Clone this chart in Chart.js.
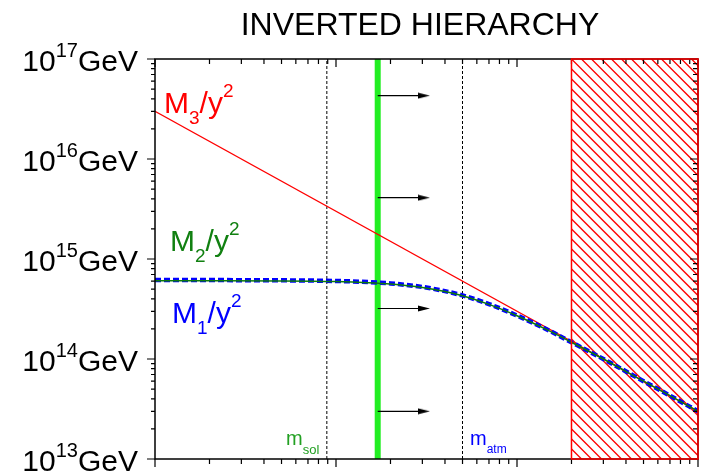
<!DOCTYPE html>
<html>
<head>
<meta charset="utf-8">
<script src="https://cdn.jsdelivr.net/npm/chart.js@4.4.1/dist/chart.umd.min.js"></script>
<style>
    html, body { margin: 0; padding: 0; background: #ffffff; }
</style>
</head>
<body>
<canvas id="hierarchyChart" width="704" height="473"></canvas>
<script>
// lightest neutrino mass (eV) on x, M/y^2 (GeV) on y
var massPoints = [0.001, 0.002, 0.005, 0.01, 0.015, 0.02, 0.03, 0.04, 0.05, 0.07, 0.1, 0.15, 0.2, 0.3, 0.5, 0.7, 1.0];
var m1Values   = [6.15e14, 6.15e14, 6.12e14, 6.03e14, 5.88e14, 5.70e14, 5.25e14, 4.77e14, 4.32e14, 3.54e14, 2.72e14, 1.93e14, 1.47e14, 1.0e14, 6.0e13, 4.3e13, 3.0e13];
var m2Values   = [6.05e14, 6.05e14, 6.03e14, 5.94e14, 5.80e14, 5.63e14, 5.20e14, 4.73e14, 4.29e14, 3.52e14, 2.71e14, 1.92e14, 1.47e14, 1.0e14, 6.0e13, 4.3e13, 3.0e13];
var m3Masses   = [0.001, 1.0];
var m3Values   = [3.0e16, 3.0e13];

var mSol   = 0.0089;
var mAtm   = 0.05;
var mBound = 0.017;
var mCosmo = 0.2;

var arrowLevels = [4.3e16, 4.1e15, 3.2e14, 3.0e13];
var arrowEnd    = 0.0306;

var xMajorTicks = [0.001, 0.01, 0.1, 1];
var yExponents  = [13, 14, 15, 16, 17];
var minorSteps  = [2, 3, 4, 5, 6, 7, 8, 9];

var xMin = 0.001, xMax = 1;
var yMin = 1e13,  yMax = 1e17;

var FONT = '"Liberation Sans", Arial, Helvetica, sans-serif';

function pairs(xs, ys) {
    return xs.map(function (x, i) { return { x: x, y: ys[i] }; });
}

function vertical(x) {
    return [{ x: x, y: yMin }, { x: x, y: yMax }];
}

// arrow head used as point style
var arrowHead = document.createElement('canvas');
arrowHead.width = 12;
arrowHead.height = 7;
(function () {
    var c = arrowHead.getContext('2d');
    c.fillStyle = '#000000';
    c.beginPath();
    c.moveTo(0, 0.5);
    c.lineTo(12, 3.5);
    c.lineTo(0, 6.5);
    c.closePath();
    c.fill();
})();

function drawRich(ctx, parts, x, y, color) {
    ctx.fillStyle = color;
    ctx.textAlign = 'left';
    ctx.textBaseline = 'alphabetic';
    var cx = x;
    parts.forEach(function (p) {
        ctx.font = p.size + 'px ' + FONT;
        ctx.fillText(p.t, cx, y + (p.dy || 0));
        cx += ctx.measureText(p.t).width;
    });
    return cx - x;
}

function richWidth(ctx, parts) {
    var w = 0;
    parts.forEach(function (p) {
        ctx.font = p.size + 'px ' + FONT;
        w += ctx.measureText(p.t).width;
    });
    return w;
}

function massLabel(idx) {
    return [
        { t: 'M', size: 30 },
        { t: idx, size: 19, dy: 11 },
        { t: '/y', size: 30 },
        { t: '2', size: 19, dy: -16 }
    ];
}

var hatchPlugin = {
    id: 'hatch',
    beforeDatasetsDraw: function (chart) {
        var ctx = chart.ctx, a = chart.chartArea;
        var x0 = chart.scales.x.getPixelForValue(mCosmo);
        var h = a.bottom - a.top;
        ctx.save();
        ctx.beginPath();
        ctx.rect(x0, a.top, a.right - x0, h);
        ctx.clip();
        ctx.strokeStyle = '#ff0000';
        ctx.lineWidth = 1.3;
        ctx.beginPath();
        for (var x = x0 - h; x < a.right; x += 10) {
            ctx.moveTo(x, a.top);
            ctx.lineTo(x + h, a.bottom);
        }
        ctx.stroke();
        ctx.restore();
    }
};

var framePlugin = {
    id: 'frame',
    afterDraw: function (chart) {
        var ctx = chart.ctx, a = chart.chartArea;
        var xs = chart.scales.x, ys = chart.scales.y;
        ctx.save();

        // frame
        ctx.strokeStyle = '#000000';
        ctx.lineWidth = 1.5;
        ctx.strokeRect(a.left, a.top, a.right - a.left, a.bottom - a.top);

        // ticks
        ctx.lineWidth = 1.2;
        ctx.beginPath();
        xMajorTicks.forEach(function (v, i) {
            var px = xs.getPixelForValue(v);
            ctx.moveTo(px, a.bottom); ctx.lineTo(px, a.bottom + 8);
            ctx.moveTo(px, a.top);    ctx.lineTo(px, a.top + 8);
            if (i < xMajorTicks.length - 1) {
                minorSteps.forEach(function (s) {
                    var mx = xs.getPixelForValue(v * s);
                    ctx.moveTo(mx, a.bottom); ctx.lineTo(mx, a.bottom + 5);
                    ctx.moveTo(mx, a.top);    ctx.lineTo(mx, a.top + 5);
                });
            }
        });
        yExponents.forEach(function (e, i) {
            var v = Math.pow(10, e);
            var py = ys.getPixelForValue(v);
            ctx.moveTo(a.left, py);  ctx.lineTo(a.left - 8, py);
            ctx.moveTo(a.right, py); ctx.lineTo(a.right - 8, py);
            if (i < yExponents.length - 1) {
                minorSteps.forEach(function (s) {
                    var my = ys.getPixelForValue(v * s);
                    ctx.moveTo(a.left, my);  ctx.lineTo(a.left - 4, my);
                    ctx.moveTo(a.right, my); ctx.lineTo(a.right - 5, my);
                });
            }
        });
        ctx.stroke();

        // red border of the excluded region
        var x0 = xs.getPixelForValue(mCosmo);
        ctx.strokeStyle = '#ff0000';
        ctx.lineWidth = 1.5;
        ctx.strokeRect(x0, a.top, a.right - x0, a.bottom - a.top);

        // y tick labels
        yExponents.forEach(function (e) {
            var py = ys.getPixelForValue(Math.pow(10, e));
            var parts = [
                { t: '10', size: 30, dy: 12 },
                { t: String(e), size: 20, dy: -2 },
                { t: 'GeV', size: 30, dy: 12 }
            ];
            drawRich(ctx, parts, 138 - richWidth(ctx, parts), py, '#000000');
        });

        // title
        ctx.fillStyle = '#000000';
        ctx.font = '32px ' + FONT;
        ctx.textAlign = 'center';
        ctx.fillText('INVERTED HIERARCHY', 420, 35);

        // curve labels
        drawRich(ctx, massLabel('3'), 164, 113, '#ff0000');
        drawRich(ctx, massLabel('2'), 170, 251, '#118011');
        drawRich(ctx, massLabel('1'), 172, 323, '#0000ff');

        drawRich(ctx, [{ t: 'm', size: 20 }, { t: 'sol', size: 13, dy: 9 }], 286, 445, '#22a022');
        drawRich(ctx, [{ t: 'm', size: 20 }, { t: 'atm', size: 12, dy: 8 }], 470, 445, '#0000ff');

        ctx.restore();
    }
};

var datasets = [
    {
        label: 'M2/y2',
        data: pairs(massPoints, m2Values),
        borderColor: '#0b7a0b', borderWidth: 1.5,
        pointRadius: 0, cubicInterpolationMode: 'monotone'
    },
    {
        label: 'M1/y2',
        data: pairs(massPoints, m1Values),
        borderColor: '#0000ff', borderWidth: 4.5, borderDash: [6, 3],
        pointRadius: 0, cubicInterpolationMode: 'monotone'
    },
    {
        label: 'M3/y2',
        data: pairs(m3Masses, m3Values),
        borderColor: '#ff0000', borderWidth: 1.2,
        pointRadius: 0
    }
];

arrowLevels.forEach(function (lvl) {
    datasets.push({
        label: 'arrow',
        data: [{ x: mBound, y: lvl }, { x: arrowEnd, y: lvl }],
        borderColor: '#000000', borderWidth: 1.2,
        pointRadius: [0, 6], pointStyle: arrowHead,
        pointBackgroundColor: '#000000', pointBorderWidth: 0
    });
});

datasets.push({
    label: 'bound',
    data: vertical(mBound),
    borderColor: '#22ee22', borderWidth: 6,
    pointRadius: 0
});
datasets.push({
    label: 'msol',
    data: vertical(mSol),
    borderColor: '#000000', borderWidth: 1, borderDash: [3, 2],
    pointRadius: 0
});
datasets.push({
    label: 'matm',
    data: vertical(mAtm),
    borderColor: '#000000', borderWidth: 1, borderDash: [3, 2],
    pointRadius: 0
});

new Chart(document.getElementById('hierarchyChart'), {
    type: 'line',
    data: { datasets: datasets },
    options: {
        responsive: false,
        animation: false,
        devicePixelRatio: 1,
        layout: { padding: { left: 155, right: 4, top: 59, bottom: 14 } },
        plugins: {
            legend:  { display: false },
            tooltip: { enabled: false }
        },
        scales: {
            x: { type: 'logarithmic', min: xMin, max: xMax, display: false },
            y: { type: 'logarithmic', min: yMin, max: yMax, display: false }
        }
    },
    plugins: [hatchPlugin, framePlugin]
});
</script>
</body>
</html>
